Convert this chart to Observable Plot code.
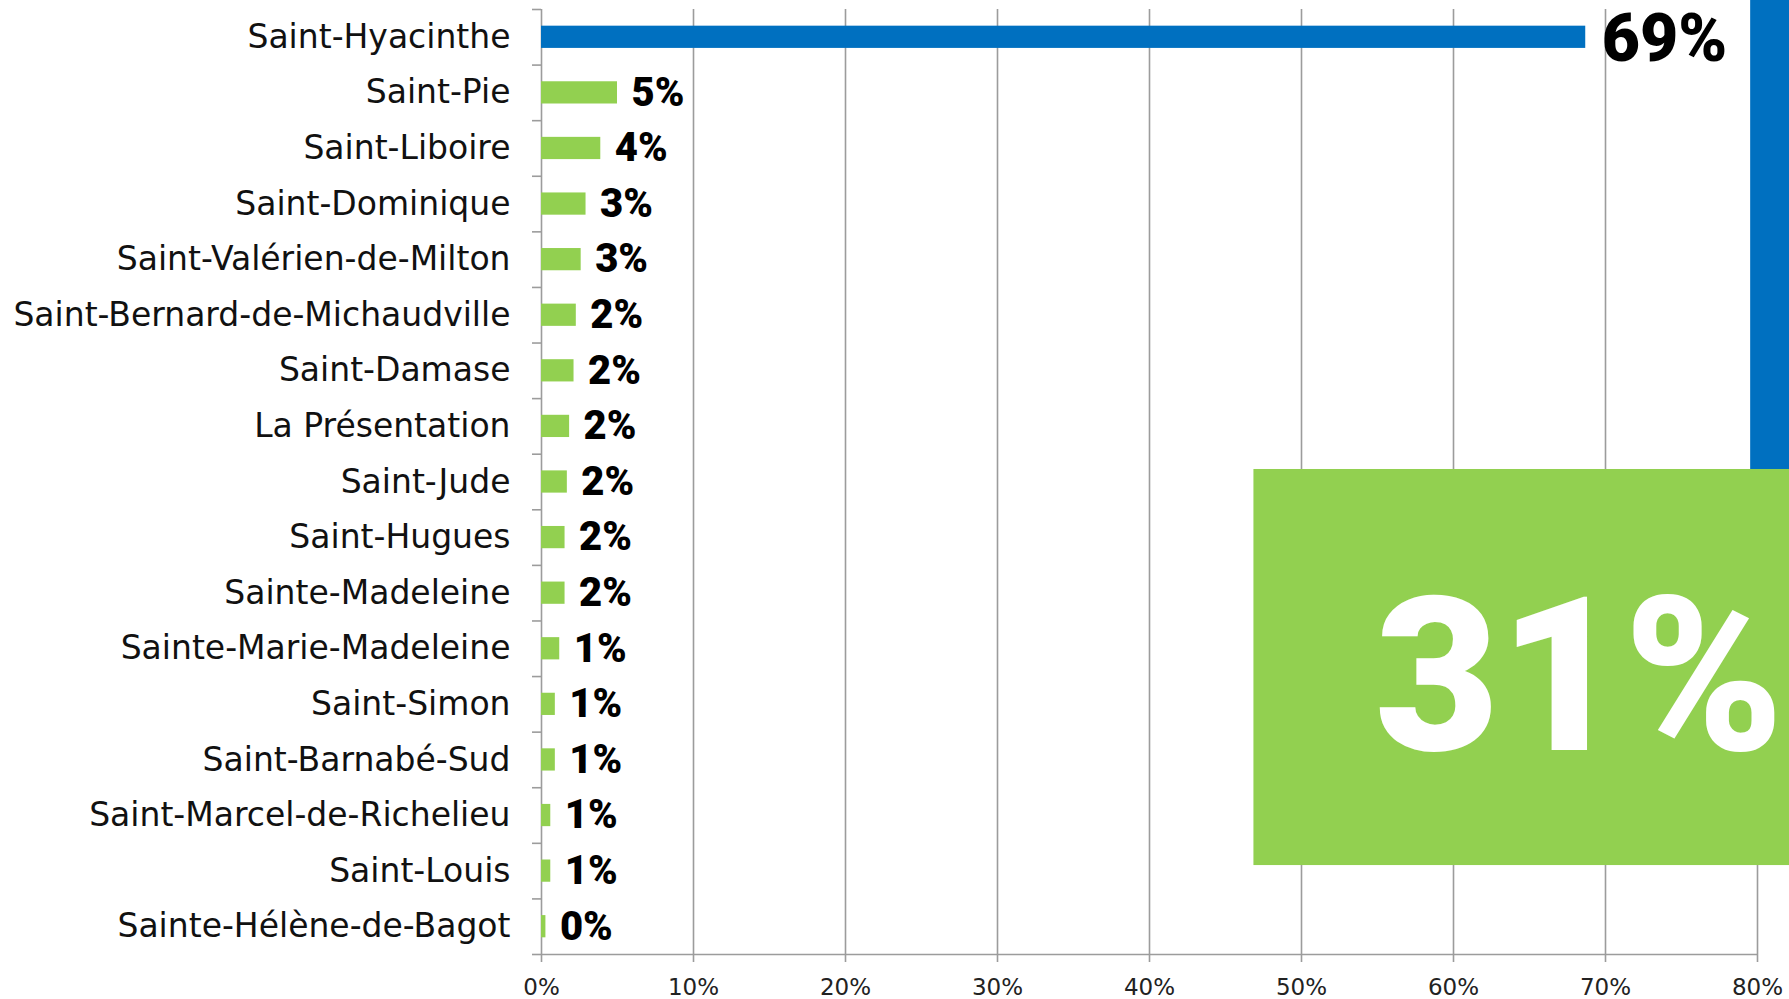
<!DOCTYPE html>
<html>
<head>
<meta charset="utf-8">
<script src="https://cdn.jsdelivr.net/npm/d3@7"></script>
<script src="https://cdn.jsdelivr.net/npm/@observablehq/plot@0.6"></script>
<style>
  html, body { margin: 0; padding: 0; background: #fff; overflow: hidden; }
  #chart svg { display: block; }
</style>
</head>
<body>
<div id="chart"></div>
<script>
// ---- data ----
const categories = [
  "Saint-Hyacinthe", "Saint-Pie", "Saint-Liboire", "Saint-Dominique",
  "Saint-Valérien-de-Milton", "Saint-Bernard-de-Michaudville", "Saint-Damase",
  "La Présentation", "Saint-Jude", "Saint-Hugues", "Sainte-Madeleine",
  "Sainte-Marie-Madeleine", "Saint-Simon", "Saint-Barnabé-Sud",
  "Saint-Marcel-de-Richelieu", "Saint-Louis", "Sainte-Hélène-de-Bagot"
];
const values = [68.7, 5.0, 3.9, 2.93, 2.61, 2.29, 2.14, 1.85, 1.70, 1.55, 1.55, 1.20, 0.91, 0.91, 0.61, 0.61, 0.29];
const xTicks = [0, 10, 20, 30, 40, 50, 60, 70, 80];
const summaryShares = [69, 31]; // Saint-Hyacinthe vs. the other municipalities

const rows = categories.map((name, i) => ({ name, i, value: values[i] }));
const blue = "#0070C0", green = "#92D050", grid = "#9c9c9c";
const boundaries = d3.range(-0.5, categories.length, 1);

const chart = Plot.plot({
  width: 1789,
  height: 999,
  marginLeft: 541,
  marginRight: 32,
  marginTop: 9,
  marginBottom: 45,
  style: { background: "#fff", fontFamily: "DejaVu Sans" },
  x: { domain: [0, 80], label: null },
  y: { domain: [-0.5, categories.length - 0.5], reverse: true, label: null },
  marks: [
    Plot.gridX(xTicks, { stroke: grid, strokeOpacity: 1, strokeWidth: 1.6 }),
    Plot.ruleY([categories.length - 0.5], { stroke: grid, strokeWidth: 1.6 }),
    Plot.axisY({ ticks: boundaries, tickSize: 9, tickFormat: () => "", label: null, stroke: grid, strokeWidth: 1.6 }),
    Plot.axisY({
      ticks: d3.range(categories.length), tickSize: 0, tickPadding: 31, label: null,
      tickFormat: i => categories[i], fontSize: 33, fontFamily: "DejaVu Sans", fill: "#111"
    }),
    Plot.axisX({
      ticks: xTicks, tickSize: 8, tickPadding: 16, tickFormat: d => d + "%", label: null,
      stroke: grid, strokeWidth: 1.6, fontSize: 23, fontFamily: "DejaVu Sans", fill: "#222"
    }),
    Plot.rectX(rows, {
      x1: 0, x2: "value",
      y1: d => d.i - 0.2, y2: d => d.i + 0.2,
      fill: d => d.i === 0 ? blue : green
    }),
    Plot.text(rows.filter(d => d.i > 0), {
      x: "value", y: "i", text: d => Math.round(d.value) + "%",
      textAnchor: "start", dx: 14, fontSize: 40, fontWeight: 900,
      fontFamily: "Roboto", fill: "#000"
    }),
    Plot.text(rows.filter(d => d.i === 0), {
      x: "value", y: "i", text: d => Math.round(d.value) + "%",
      textAnchor: "start", dx: 16, dy: 3, fontSize: 66, fontWeight: 900,
      fontFamily: "Roboto", fill: "#000", style: { letterSpacing: "1.5px" }
    }),
    // summary callout: blue strip (Saint-Hyacinthe) and green box (others)
    Plot.rect([summaryShares[0]], { x1: 79.55, x2: 82.2, y1: -0.67, y2: 7.775, fill: blue }),
    Plot.rect([summaryShares[1]], { x1: 46.87, x2: 82.2, y1: 7.775, y2: 14.9, fill: green }),
    Plot.text([summaryShares[1]], {
      x: 68.27, y: 11.575, text: d => d + "%", textAnchor: "middle",
      fontSize: 215, fontWeight: 900, fontFamily: "Roboto", fill: "#fff"
    })
  ]
});
document.getElementById("chart").appendChild(chart);
</script>
</body>
</html>
